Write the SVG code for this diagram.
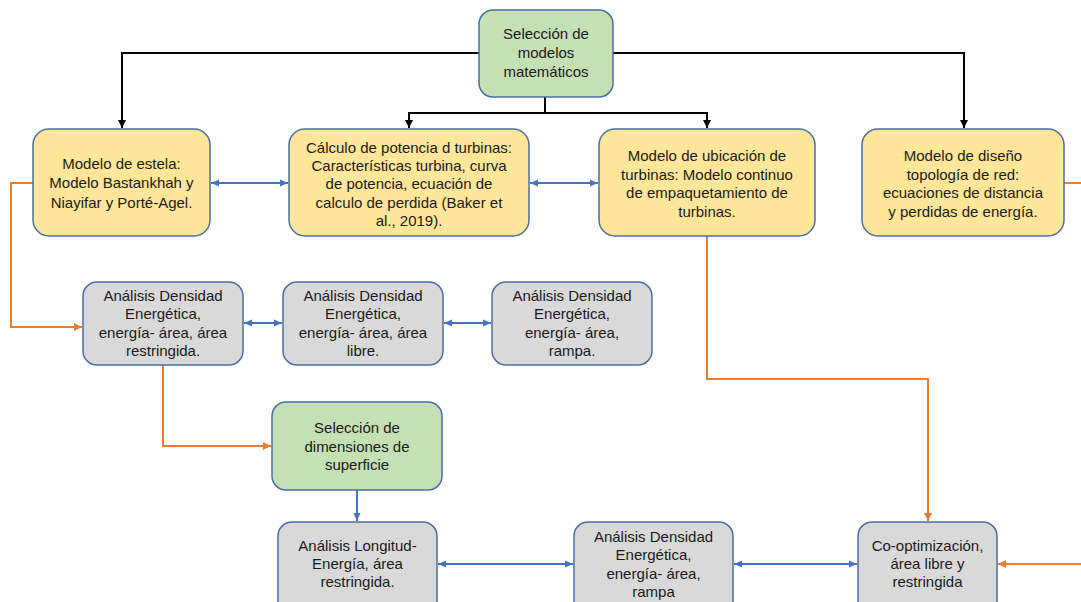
<svg xmlns="http://www.w3.org/2000/svg" width="1081" height="602" viewBox="0 0 1081 602">
<style>
.box{stroke:#4A6FA5;stroke-width:1.5}
.y{fill:#FFE699}.g{fill:#C5E0B4}.gr{fill:#D9D9D9}
text{font-family:"Liberation Sans",Arial,sans-serif;font-size:15px;fill:#1a1a1a;text-anchor:middle}
.bk{stroke:#000;stroke-width:2;fill:none}
.bl{stroke:#4472C4;stroke-width:2;fill:none}
.or{stroke:#ED7D31;stroke-width:2;fill:none}
</style>
<defs>
<marker id="ak" markerUnits="userSpaceOnUse" markerWidth="10" markerHeight="10" refX="8" refY="5" orient="auto"><path d="M0,1 L8,5 L0,9 Z" fill="#000"/></marker>
<marker id="ab" markerUnits="userSpaceOnUse" markerWidth="10" markerHeight="10" refX="8" refY="5" orient="auto-start-reverse"><path d="M0,1.5 L8,5 L0,8.5 Z" fill="#4472C4"/></marker>
<marker id="ao" markerUnits="userSpaceOnUse" markerWidth="10" markerHeight="10" refX="8" refY="5" orient="auto"><path d="M0,1 L8,5 L0,9 Z" fill="#ED7D31"/></marker>
</defs>
<g id="connectors">
<path class="bk" d="M479,53 H122 V128" marker-end="url(#ak)"/>
<path class="bk" d="M613,53 H964 V128" marker-end="url(#ak)"/>
<path class="bk" d="M545,97 V113 H409 V128" marker-end="url(#ak)"/>
<path class="bk" d="M545,113 H707 V128" marker-end="url(#ak)"/>
<path class="bl" d="M211,183 H288" marker-start="url(#ab)" marker-end="url(#ab)"/>
<path class="bl" d="M530,183 H598" marker-start="url(#ab)" marker-end="url(#ab)"/>
<path class="bl" d="M244,323 H282" marker-start="url(#ab)" marker-end="url(#ab)"/>
<path class="bl" d="M444,323 H491" marker-start="url(#ab)" marker-end="url(#ab)"/>
<path class="bl" d="M438,564 H573" marker-start="url(#ab)" marker-end="url(#ab)"/>
<path class="bl" d="M734,564 H857" marker-start="url(#ab)" marker-end="url(#ab)"/>
<path class="bl" d="M357,490 V521" marker-end="url(#ab)"/>
<path class="or" d="M33,183 H11 V327 H82" marker-end="url(#ao)"/>
<path class="or" d="M1064,183 H1081"/>
<path class="or" d="M163,365 V446 H271" marker-end="url(#ao)"/>
<path class="or" d="M707,236 V379 H928 V521" marker-end="url(#ao)"/>
<path class="or" d="M1081,564 H998" marker-end="url(#ao)"/>
</g>
<g id="n_seleccion_modelos"><rect class="box g" x="479" y="10" width="134" height="87" rx="14"/>
<text x="546" y="39">Selección de</text><text x="546" y="58">modelos</text><text x="546" y="77">matemáticos</text></g>
<g id="n_estela"><rect class="box y" x="33" y="129" width="177" height="107" rx="16"/>
<text x="121.5" y="169">Modelo de estela:</text><text x="121.5" y="188">Modelo Bastankhah y</text><text x="121.5" y="208">Niayifar y  Porté-Agel.</text></g>
<g id="n_potencia"><rect class="box y" x="289" y="129" width="240" height="107" rx="16"/>
<text x="409" y="153">Cálculo de potencia d turbinas:</text><text x="409" y="171">Características turbina, curva</text><text x="409" y="189">de potencia, ecuación de</text><text x="409" y="208">calculo de perdida (Baker et</text><text x="409" y="226">al., 2019).</text></g>
<g id="n_ubicacion"><rect class="box y" x="599" y="129" width="216" height="107" rx="16"/>
<text x="707" y="161">Modelo de ubicación de</text><text x="707" y="180">turbinas: Modelo continuo</text><text x="707" y="198">de empaquetamiento de</text><text x="707" y="217">turbinas.</text></g>
<g id="n_topologia"><rect class="box y" x="862" y="129" width="202" height="107" rx="16"/>
<text x="963" y="161">Modelo de diseño</text><text x="963" y="180">topología de red:</text><text x="963" y="198">ecuaciones de distancia</text><text x="963" y="217">y perdidas de energía.</text></g>
<g id="n_densidad_restringida"><rect class="box gr" x="83" y="282" width="160" height="83" rx="14"/>
<text x="163" y="301">Análisis Densidad</text><text x="163" y="319">Energética,</text><text x="163" y="338">energía- área, área</text><text x="163" y="356">restringida.</text></g>
<g id="n_densidad_libre"><rect class="box gr" x="283" y="282" width="160" height="83" rx="14"/>
<text x="363" y="301">Análisis Densidad</text><text x="363" y="319">Energética,</text><text x="363" y="338">energía- área, área</text><text x="363" y="356">libre.</text></g>
<g id="n_densidad_rampa"><rect class="box gr" x="492" y="282" width="160" height="83" rx="14"/>
<text x="572" y="301">Análisis Densidad</text><text x="572" y="319">Energética,</text><text x="572" y="338">energía- área,</text><text x="572" y="356">rampa.</text></g>
<g id="n_dimensiones"><rect class="box g" x="272" y="402" width="170" height="88" rx="14"/>
<text x="357" y="433">Selección de</text><text x="357" y="452">dimensiones de</text><text x="357" y="470">superficie</text></g>
<g id="n_longitud"><rect class="box gr" x="278" y="522" width="159" height="100" rx="14"/>
<text x="357.5" y="551">Análisis Longitud-</text><text x="357.5" y="569">Energía, área</text><text x="357.5" y="587">restringida.</text></g>
<g id="n_densidad_rampa2"><rect class="box gr" x="574" y="522" width="159" height="100" rx="14"/>
<text x="653.5" y="542">Análisis Densidad</text><text x="653.5" y="560">Energética,</text><text x="653.5" y="579">energía- área,</text><text x="653.5" y="597">rampa</text></g>
<g id="n_cooptimizacion"><rect class="box gr" x="858" y="522" width="139" height="100" rx="14"/>
<text x="927.5" y="551">Co-optimización,</text><text x="927.5" y="569">área libre y</text><text x="927.5" y="587">restringida</text></g>
</svg>
